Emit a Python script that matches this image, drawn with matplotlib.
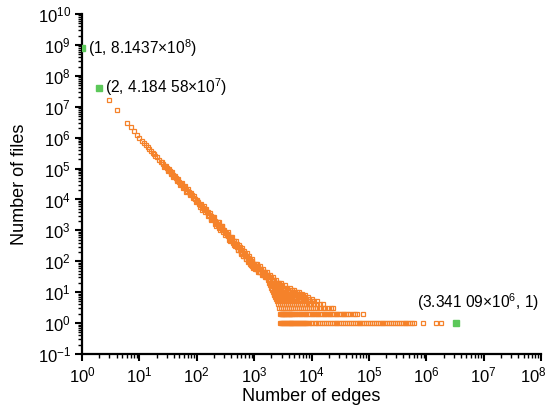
import matplotlib
matplotlib.use("Agg")
import matplotlib.pyplot as plt
from matplotlib.ticker import LogLocator, NullFormatter
from matplotlib.transforms import ScaledTranslation

plt.rcParams['font.family'] = ['Liberation Sans', 'DejaVu Sans']
plt.rcParams['mathtext.fontset'] = 'custom'
plt.rcParams['mathtext.rm'] = 'Liberation Sans'
plt.rcParams['mathtext.it'] = 'Liberation Sans:italic'

# highlighted points: first, second and largest file
edges_mark = [1, 2, 3341090]
files_mark = [814370000, 41845800, 1]
mark_labels = ['(1, 8.1437×10$^{8}$)', '(2, 4.184 58×10$^{7}$)', '(3.341 09×10$^{6}$, 1)']

# main power-law part of the distribution
edges_curve = [3, 4, 6, 7, 8, 9, 10, 11, 12, 13, 14, 15, 16, 17, 18, 19, 20, 22, 24, 26,
               28, 30, 32, 34, 36, 38, 40, 43, 46, 50, 53, 56, 60, 64, 68, 72, 77, 82, 88,
               94, 100, 105, 110, 116, 122, 128, 135, 142, 150, 158, 166, 175, 184, 194,
               204, 215, 226, 238, 250, 263, 277, 291, 306, 322, 339, 357, 376, 395, 416,
               438, 461, 485, 510, 537, 565, 595, 626, 659, 693, 730, 768, 808, 850, 895,
               942, 990]
files_curve = [16000000, 7800000, 2950000, 2150000, 1640000, 1240000, 955000, 790000, 655000,
               563000, 480000, 421000, 366000, 327000, 288000, 261000, 232000, 195000, 160000,
               138000, 117000, 104000, 89500, 80300, 70200, 64100, 56800, 49900, 42600, 36900,
               32000, 29300, 24800, 22400, 19200, 17700, 15000, 13500, 11400, 10300, 8800,
               8150, 7250, 6650, 5850, 5450, 4750, 4400, 3820, 3550, 3100, 2880, 2500, 2330,
               2030, 1900, 1640, 1540, 1330, 1260, 1070, 1020, 880, 830, 720, 680, 575, 545,
               465, 437, 372, 352, 300, 283, 240, 228, 193, 183, 155, 147, 124, 118, 100, 95,
               80, 76]

# scatter around the curve where the band gets wider
edges_spread = [25, 27, 29, 31, 33, 35, 37, 39, 42, 45, 48, 52, 55, 58, 62, 66, 70, 75, 80,
                85, 91, 97, 103, 113, 119, 125, 132, 138, 146, 154, 160, 170, 175, 180, 190,
                198, 210, 220, 230, 240, 245, 258, 270, 280, 285, 300, 310, 330, 345, 350,
                370, 380, 400, 410, 420, 445, 450, 470, 480, 500, 520, 530, 550, 560, 580,
                590, 610, 620, 640, 650, 675, 690, 710, 720, 745, 760, 785, 800, 825, 840,
                870, 880, 915, 930, 960, 970]
files_spread = [166000, 113500, 124000, 85700, 94800, 67000, 75300, 53700, 58200, 40200,
                44400, 29900, 34400, 23400, 27000, 18000, 21000, 13900, 16000, 10800, 12700,
                8050, 9840, 5900, 7330, 4690, 6050, 3830, 4930, 2990, 3900, 3700, 2400, 2170,
                2650, 2700, 1650, 1410, 1850, 1870, 1180, 1010, 1350, 1360, 870, 1050, 697,
                690, 893, 780, 500, 459, 610, 618, 400, 328, 470, 310, 442, 370, 234, 240,
                346, 290, 178, 185, 277, 230, 144, 150, 223, 185, 115, 118, 181, 150, 93, 95,
                145, 120, 74, 78, 116, 100, 60, 64]

# tail: edge counts observed for each small number of files
tail_counts = [1, 2, 3, 4, 5, 6, 7, 8, 9, 10, 12, 14, 17, 20, 25, 30, 36, 45, 55, 68, 82]
tail_edges = [
    [2820, 2930, 3050, 3170, 3290, 3420, 3550, 3700, 3840, 4000, 4150, 4310, 4480, 4660,
     4840, 5030, 5220, 5430, 5640, 5860, 6090, 6330, 6580, 6840, 7110, 7390, 7680, 7980,
     8290, 8950, 9670, 10400, 11300, 12200, 13100, 14200, 15300, 16500, 17900, 19300,
     20800, 22500, 24300, 26200, 28300, 30600, 33000, 35700, 38500, 41600, 44900, 48500,
     52400, 56600, 61100, 66000, 71300, 77000, 83100, 89800, 97000, 105000, 113000,
     122000, 132000, 142000, 154000, 166000, 179000, 194000, 209000, 226000, 244000,
     264000, 285000, 307000, 332000, 359000, 387000, 418000, 452000, 488000, 527000,
     569000, 615000, 870000, 1500000, 1820000],
    [2820, 2910, 3000, 3100, 3200, 3300, 3400, 3520, 3650, 3770, 3900, 4020, 4150, 4300,
     4450, 4600, 4750, 5100, 5450, 5800, 6200, 6650, 7100, 7600, 8150, 8700, 9300, 10000,
     10700, 11500, 12300, 13200, 14100, 15100, 16200, 17400, 18600, 20000, 21400, 23000,
     24600, 26400, 28300, 30300, 32500, 34800, 37300, 40000, 43500, 47000, 52000, 56500,
     61000, 79000],
    [2730, 2950, 3200, 3450, 3750, 4050, 4400, 4750, 5150, 5600, 6050, 6550, 7100, 7700,
     8350, 9050, 9800, 10600, 11500, 12600, 14000, 15800, 17500, 19500, 21500, 23500],
    [2580, 2800, 3030, 3280, 3550, 3850, 4180, 4530, 4920, 5340, 5800, 6300, 6850, 7450,
     8100, 8900, 9800, 11000, 12600, 14200, 15800],
    [2460, 2670, 2890, 3130, 3400, 3690, 4000, 4350, 4720, 5130, 5580, 6080, 6650, 7300,
     8050, 8900, 10000, 11200, 12500],
    [2370, 2570, 2790, 3030, 3290, 3570, 3880, 4220, 4590, 5000, 5450, 5960, 6550, 7200,
     8000, 8950, 10300],
    [2300, 2500, 2710, 2940, 3190, 3470, 3770, 4100, 4460, 4860, 5310, 5820, 6400, 7050,
     7850, 8750],
    [2240, 2430, 2640, 2870, 3120, 3390, 3690, 4020, 4380, 4790, 5250, 5780, 6380, 7000, 7600],
    [2180, 2370, 2580, 2810, 3060, 3330, 3630, 3960, 4330, 4740, 5200, 5720, 6200, 6720],
    [2140, 2330, 2540, 2770, 3020, 3290, 3590, 3920, 4290, 4700, 5150, 5600, 6010],
    [2060, 2250, 2460, 2690, 2940, 3210, 3510, 3840, 4200, 4580, 4970],
    [1990, 2180, 2390, 2620, 2870, 3140, 3440, 3780, 4220],
    [1920, 2010, 2110, 2210, 2320, 2430, 2550, 2670, 2800, 3100, 3440],
    [1850, 1940, 2040, 2140, 2250, 2360, 2480, 2590, 2700, 2900],
    [1750, 1830, 1920, 2010, 2110, 2240, 2380],
    [1550, 1620, 1700, 1780, 1870, 1990, 2120],
    [1370, 1440, 1510, 1590, 1670, 1780, 1890],
    [1170, 1230, 1290, 1350, 1420, 1480, 1540, 1650],
    [1020, 1070, 1120, 1170, 1230, 1280, 1340, 1450],
    [900, 945, 990, 1040, 1090, 1130, 1180, 1250],
    [850, 900, 950, 1000, 1060, 1110],
]

orange = '#F5822A'
green = '#5CC85A'

fig = plt.figure(figsize=(5.49, 4.07), dpi=100)
ax = fig.add_axes([0.1494, 0.1302, 0.836, 0.8354])

style = dict(ls='none', marker='s', ms=2.4, mfc='none', mec=orange, mew=0.9)
ax.plot(edges_curve, files_curve, **style)
ax.plot(edges_spread, files_spread, **style)
for count, edges in zip(tail_counts, tail_edges):
    ax.plot(edges, [count] * len(edges), **style)

ax.plot(edges_mark, files_mark, ls='none', marker='s', ms=4.5, color=green, zorder=5)

offsets = [(6, 0), (6, 0), (22, 21)]
aligns = ['left', 'left', 'center']
for x, y, text, off, ha in zip(edges_mark, files_mark, mark_labels, offsets, aligns):
    ax.annotate(text, (x, y), xytext=off, textcoords='offset pixels',
                ha=ha, va='center', fontsize=11.2)

ax.set_xscale('log')
ax.set_yscale('log')
ax.set_xlim(1, 1e8)
ax.set_ylim(1e-1, 1e10)

ax.xaxis.set_major_locator(LogLocator(base=10, numticks=20))
ax.yaxis.set_major_locator(LogLocator(base=10, numticks=20))
ax.xaxis.set_minor_locator(LogLocator(base=10, subs=range(2, 10), numticks=20))
ax.yaxis.set_minor_locator(LogLocator(base=10, subs=range(2, 10), numticks=20))
ax.xaxis.set_minor_formatter(NullFormatter())
ax.yaxis.set_minor_formatter(NullFormatter())

for side in ['top', 'right']:
    ax.spines[side].set_visible(False)
for side in ['left', 'bottom']:
    ax.spines[side].set_linewidth(1.6)

ax.tick_params(which='major', direction='out', length=5, width=1.5, labelsize=12, pad=3)
ax.tick_params(which='minor', direction='out', length=3, width=1.0)

ax.set_xlabel('Number of edges', fontsize=13, labelpad=2)
ax.set_ylabel('Number of files', fontsize=13, labelpad=7)

# pull the last x tick label inside the figure
fig.canvas.draw()
for tick in ax.xaxis.get_major_ticks():
    if abs(tick.get_loc() - 1e8) < 1:
        tick.label1.set_transform(tick.label1.get_transform()
                                  + ScaledTranslation(-8 / 100, 0, fig.dpi_scale_trans))

fig.savefig('out.png', dpi=100)
